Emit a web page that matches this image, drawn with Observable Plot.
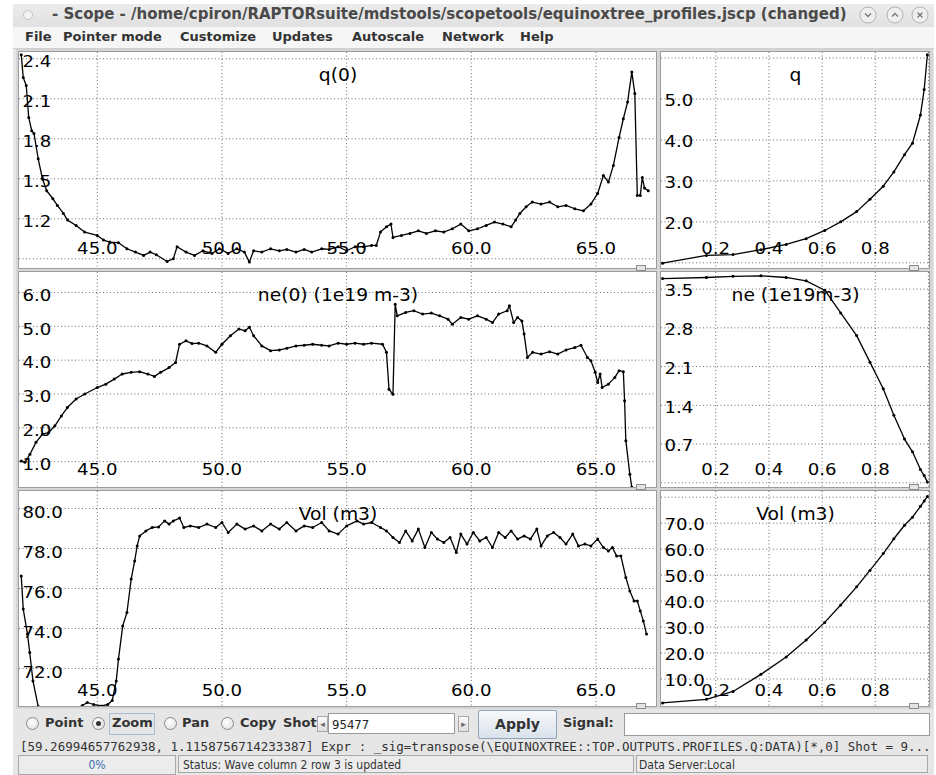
<!DOCTYPE html>
<html>
<head>
<meta charset="utf-8">
<script src="https://cdn.jsdelivr.net/npm/d3@7"></script>
<script src="https://cdn.jsdelivr.net/npm/@observablehq/plot@0.6"></script>
<style>
  html, body { margin:0; padding:0; }
  body { width:936px; height:775px; overflow:hidden; background:#ffffff; position:relative; font-family:"DejaVu Sans", sans-serif; }
  .abs { position:absolute; }
  #win { left:13px; top:4px; width:921px; height:771px; background:#e6e6e6; }
  #titlebar { left:13px; top:4px; width:921px; height:23px; background:linear-gradient(#ececec,#e0e0e0); }
  #title { left:52px; top:5px; font:bold 15px "DejaVu Sans"; color:#4a4a4a; white-space:nowrap; }
  #menubar { left:13px; top:27px; width:921px; height:21px; background:#f6f6f6; border-bottom:1px solid #cfcfcf; }
  .menu { top:29px; font:bold 13px "DejaVu Sans"; color:#333; white-space:nowrap; }
  .panel { background:#fff; outline:1px solid #9c9c9c; overflow:hidden; }
  .sep { background:#d6d6d6; }
  .handle { width:8px; height:4px; border:1px solid #8c8c8c; background:#e4e4e4; }
  .radio { width:11px; height:11px; border:1px solid #8a8a8a; border-radius:50%; background:radial-gradient(circle at 40% 35%, #ffffff, #dcdcdc); }
  .lbl { font:bold 13px "DejaVu Sans"; color:#333; white-space:nowrap; }
  .field { background:#fff; border:1px solid #9a9a9a; }
  .arrow { width:9px; height:14px; border:1px solid #a8a8a8; background:linear-gradient(#fafafa,#dedede); font-size:9px; line-height:14px; text-align:center; color:#666; }
  .status { height:18px; border:1px solid #a8a8a8; background:#ececec; font:12px "DejaVu Sans Condensed"; color:#333; line-height:18px; white-space:nowrap; overflow:hidden; }
</style>
</head>
<body>
<div id="win" class="abs"></div>
<div id="titlebar" class="abs"></div>
<svg class="abs" style="left:22px;top:9px" width="14" height="14"><circle cx="6" cy="6" r="4.5" fill="#f2f2f2" stroke="#c4c4c4"/></svg>
<div id="title" class="abs">- Scope - /home/cpiron/RAPTORsuite/mdstools/scopetools/equinoxtree_profiles.jscp (changed)</div>
<svg class="abs" style="left:858px;top:5px" width="74" height="20">
  <g fill="#efefef" stroke="#b4b4b4"><circle cx="10" cy="10" r="8"/><circle cx="37" cy="10" r="8"/><circle cx="62" cy="10" r="8"/></g>
  <g fill="none" stroke="#777" stroke-width="1.3"><path d="M7 8.5 L10 11.5 L13 8.5"/><path d="M34 11.5 L37 8.5 L40 11.5"/><path d="M59.5 7.5 L64.5 12.5 M64.5 7.5 L59.5 12.5"/></g>
</svg>
<div id="menubar" class="abs"></div>
<div id="menus"></div>
<div id="panels"></div>
<div id="controls"></div>
<script>
// ---------------- data ----------------
// time traces (s) for the left column
const q0T = [41.95,42.03,42.15,42.25,42.37,42.46,42.63,42.8,42.97,43.22,43.4,43.64,43.81,44.15,44.49,45.0,45.25,45.5,45.85,46.19,46.53,46.86,47.12,47.37,47.8,48.05,48.2,48.56,48.9,49.24,49.6,49.9,50.25,50.6,50.9,51.1,51.27,51.6,51.95,52.3,52.6,52.97,53.3,53.6,54.0,54.3,54.66,55.0,55.34,55.68,56.0,56.19,56.36,56.6,56.78,56.86,57.2,57.54,57.88,58.2,58.56,58.9,59.24,59.58,59.9,60.25,60.6,60.93,61.27,61.6,61.78,61.95,62.2,62.45,62.8,63.14,63.47,63.8,64.15,64.5,64.8,65.07,65.3,65.5,65.7,65.93,66.1,66.27,66.44,66.56,66.66,66.78,66.86,66.95,67.1];
const q0V = [2.43,2.26,2.2,1.96,1.86,1.84,1.65,1.5,1.41,1.35,1.3,1.24,1.19,1.15,1.1,1.075,1.04,1.025,1.02,0.975,0.95,0.925,0.95,0.93,0.88,0.9,0.99,0.95,0.925,0.96,0.94,0.975,0.94,0.975,0.95,0.875,0.96,0.95,0.975,0.96,0.97,0.95,0.97,0.95,0.975,0.97,0.99,0.96,0.99,0.99,1.0,1.0,1.1,1.14,1.16,1.06,1.075,1.09,1.11,1.09,1.11,1.1,1.125,1.16,1.11,1.125,1.15,1.175,1.16,1.14,1.19,1.24,1.29,1.325,1.31,1.325,1.29,1.3,1.275,1.26,1.31,1.39,1.525,1.475,1.6,1.81,1.95,2.075,2.3,2.14,1.375,1.375,1.51,1.43,1.41];

const ne0T = [41.95,42.1,42.3,42.54,42.8,43.05,43.3,43.56,43.8,44.15,44.5,45.0,45.34,45.68,46.0,46.36,46.7,47.03,47.29,47.54,47.88,48.14,48.3,48.56,48.8,49.07,49.4,49.75,50.0,50.34,50.68,50.93,51.1,51.27,51.6,51.95,52.3,52.6,52.97,53.3,53.64,54.0,54.3,54.66,55.0,55.34,55.68,56.0,56.44,56.6,56.7,56.86,56.95,57.03,57.37,57.7,58.05,58.4,58.73,59.07,59.24,59.58,59.9,60.25,60.6,60.85,61.1,61.44,61.53,61.7,61.86,62.03,62.12,62.25,62.46,62.8,63.14,63.47,63.8,64.15,64.4,64.66,64.8,64.97,65.07,65.17,65.25,65.5,65.76,65.93,66.1,66.15,66.2,66.36,66.44];
const ne0V = [1.02,0.98,1.22,1.57,1.81,1.86,2.06,2.35,2.6,2.85,3.0,3.19,3.29,3.44,3.59,3.64,3.66,3.59,3.52,3.64,3.78,3.93,4.47,4.57,4.49,4.5,4.42,4.23,4.47,4.72,4.92,4.87,4.97,4.72,4.42,4.28,4.3,4.35,4.42,4.44,4.47,4.44,4.42,4.5,4.47,4.5,4.47,4.5,4.47,4.23,3.14,2.99,5.65,5.31,5.41,5.46,5.36,5.39,5.31,5.21,5.06,5.26,5.21,5.31,5.21,5.11,5.36,5.46,5.61,5.11,5.26,5.16,4.77,4.08,4.23,4.18,4.25,4.18,4.3,4.37,4.44,4.08,3.98,3.64,3.34,3.59,3.19,3.29,3.49,3.69,3.66,2.8,1.62,0.63,0.24];

const volT = [41.95,42.03,42.2,42.29,42.42,42.63,43.5,44.4,44.6,44.85,45.17,45.42,45.6,45.76,45.85,46.02,46.19,46.36,46.5,46.6,46.7,46.95,47.2,47.46,47.7,47.88,48.05,48.3,48.47,48.73,49.07,49.4,49.75,50.0,50.25,50.6,50.93,51.27,51.6,51.95,52.3,52.6,52.97,53.3,53.64,54.0,54.3,54.66,55.0,55.42,55.68,56.0,56.36,56.6,56.86,57.12,57.37,57.63,57.88,58.14,58.4,58.64,58.9,59.15,59.4,59.58,59.83,60.08,60.34,60.6,60.85,61.1,61.36,61.6,61.86,62.12,62.37,62.63,62.8,63.05,63.3,63.56,63.8,64.07,64.3,64.56,64.8,65.07,65.3,65.5,65.66,65.83,66.0,66.2,66.36,66.53,66.66,66.78,66.9,67.03];
const volV = [76.63,74.97,73.72,72.8,71.38,70.1,69.5,70.15,70.3,70.2,70.13,70.2,70.4,71.38,72.47,74.13,74.8,76.47,77.38,78.13,78.63,78.88,79.05,79.08,79.38,79.22,79.38,79.52,79.05,79.13,79.05,79.22,79.05,79.3,78.8,79.22,78.97,79.13,78.88,79.22,78.97,79.3,78.88,79.13,79.05,79.3,78.88,78.72,79.13,79.38,79.22,79.3,79.05,78.88,78.55,78.3,78.88,78.38,78.97,78.05,78.8,78.47,78.3,78.55,77.8,78.72,78.22,78.8,78.38,78.55,78.05,78.8,78.55,78.88,78.47,78.63,78.47,78.97,78.13,78.63,78.8,78.55,78.22,78.72,78.13,78.22,78.13,78.47,78.05,77.88,78.05,77.63,77.63,76.55,75.88,75.38,75.38,74.88,74.38,73.72];

// radial profiles for the right column
const rho = [0,0.165,0.265,0.37,0.465,0.54,0.61,0.67,0.73,0.78,0.83,0.87,0.91,0.94,0.97,0.984,0.996];
const qProf = [0.99,1.18,1.2,1.32,1.45,1.59,1.79,2.0,2.25,2.55,2.87,3.22,3.64,3.92,4.61,5.23,6.08];
const neProf = [3.69,3.71,3.73,3.74,3.71,3.65,3.48,3.07,2.66,2.18,1.70,1.22,0.79,0.56,0.24,0.13,0.015];
const volProf = [0.8,2.2,5.2,11.8,18.5,25.0,31.8,38.5,45.5,51.8,58.3,64.0,69.2,72.3,76.5,78.5,80.3];

// ticks
const timeTicks = [45,50,55,60,65];
const rhoTicks = [0.2,0.4,0.6,0.8];
const rhoGrid = [0.2,0.4,0.6,0.8,1.0];
const q0Ticks = [1.2,1.5,1.8,2.1,2.4];
const q0Grid = [0.9,1.2,1.5,1.8,2.1,2.4];
const ne0Ticks = [1,2,3,4,5,6];
const vol0Ticks = [72,74,76,78,80];
const qTicks = [2,3,4,5];
const qGrid = [1,2,3,4,5,6];
const neTicks = [0.7,1.4,2.1,2.8,3.5];
const neGrid = [0,0.7,1.4,2.1,2.8,3.5];
const volTicks = [10,20,30,40,50,60,70];
const volGrid = [10,20,30,40,50,60,70,80];

const titles = ["q(0)","ne(0) (1e19 m-3)","Vol (m3)","q","ne (1e19m-3)","Vol (m3)"];

// ---------------- drawing ----------------
const LEFT = {x:19, w:637}, RIGHT = {x:661, w:268};
const ROWS = [{y:52,h:216,xdy:-15},{y:272,h:215,xdy:-13},{y:491,h:215,xdy:-11}];

function panel(cfg) {
  const idx = d3.range(Math.min(cfg.xs.length, cfg.ys.length));
  const gridStyle = {stroke:"#6a6a6a", strokeOpacity:1, strokeWidth:1, strokeDasharray:"1,2.5"};
  const svg = Plot.plot({
    width: cfg.w, height: cfg.h, margin: 0,
    x: {domain: cfg.xd, axis: null},
    y: {domain: cfg.yd, axis: null},
    style: {background:"#fff", color:"#000", fontFamily:"DejaVu Sans", overflow:"hidden"},
    marks: [
      Plot.gridX(cfg.xgrid, gridStyle),
      Plot.gridY(cfg.ygrid, gridStyle),
      Plot.text(cfg.xticks, {x: d => d, text: d => d.toFixed(1), frameAnchor:"bottom", dy:cfg.xdy, fontSize:16.5, fill:"#000"}),
      Plot.text(cfg.yticks, {y: d => d, text: d => d.toFixed(1), frameAnchor:"left", textAnchor:"start", dx:3, dy:cfg.ydy, fontSize:16.5, fill:"#000"}),
      Plot.text([cfg.title], {text: d => d, frameAnchor:"top", dy:16, fontSize:17, fill:"#000"}),
      Plot.line(idx, {x: i => cfg.xs[i], y: i => cfg.ys[i], stroke:"#000", strokeWidth:1.3, clip:true}),
      Plot.dot(idx, {x: i => cfg.xs[i], y: i => cfg.ys[i], r:1.5, fill:"#000", stroke:null, clip:true})
    ]
  });
  // the reference glyphs are slightly wide: stretch each label about its anchor
  svg.querySelectorAll("text").forEach(t => {
    const tr = t.getAttribute("transform");
    if (tr) t.setAttribute("transform", tr + " scale(1.1,1)");
    else {
      const x = +t.getAttribute("x") || 0, y = +t.getAttribute("y") || 0;
      t.removeAttribute("x"); t.removeAttribute("y");
      t.setAttribute("transform", `translate(${x},${y}) scale(1.1,1)`);
    }
  });
  return svg;
}

const cfgs = [
  {col:LEFT, row:0, xs:q0T, ys:q0V, xd:[41.88,67.43], yd:[0.827,2.447], xgrid:timeTicks, xticks:timeTicks, ygrid:q0Grid, yticks:q0Ticks, ydy:3, title:titles[0]},
  {col:LEFT, row:1, xs:ne0T, ys:ne0V, xd:[41.88,67.43], yd:[0.236,6.59], xgrid:timeTicks, xticks:timeTicks, ygrid:ne0Ticks, yticks:ne0Ticks, ydy:3, title:titles[1]},
  {col:LEFT, row:2, xs:volT, ys:volV, xd:[41.88,67.43], yd:[70.1,80.85], xgrid:timeTicks, xticks:timeTicks, ygrid:vol0Ticks, yticks:vol0Ticks, ydy:4, title:titles[2]},
  {col:RIGHT, row:0, xs:rho, ys:qProf, xd:[-0.004,1.004], yd:[0.861,6.135], xgrid:rhoGrid, xticks:rhoTicks, ygrid:qGrid, yticks:qTicks, ydy:2, title:titles[3]},
  {col:RIGHT, row:1, xs:rho, ys:neProf, xd:[-0.004,1.004], yd:[-0.085,3.80], xgrid:rhoGrid, xticks:rhoTicks, ygrid:neGrid, yticks:neTicks, ydy:2, title:titles[4]},
  {col:RIGHT, row:2, xs:rho, ys:volProf, xd:[-0.004,1.004], yd:[-0.58,82.2], xgrid:rhoGrid, xticks:rhoTicks, ygrid:volGrid, yticks:volTicks, ydy:2, title:titles[5]}
];

const host = document.getElementById("panels");
const sep = document.createElement("div");
sep.className = "abs sep";
Object.assign(sep.style, {left:"16px", top:"49px", width:"917px", height:"660px"});
host.appendChild(sep);

for (const c of cfgs) {
  const r = ROWS[c.row];
  const div = document.createElement("div");
  div.className = "abs panel";
  Object.assign(div.style, {left:c.col.x+"px", top:r.y+"px", width:c.col.w+"px", height:r.h+"px"});
  div.appendChild(panel({...c, w:c.col.w, h:r.h, xdy:r.xdy}));
  host.appendChild(div);
  const h = document.createElement("div");
  h.className = "abs handle";
  Object.assign(h.style, {left:(c.col.x + c.col.w - 20)+"px", top:(r.y + r.h - 3)+"px"});
  host.appendChild(h);
}

// menus
const menuItems = [["File",25],["Pointer mode",63],["Customize",180],["Updates",272],["Autoscale",352],["Network",442],["Help",520]];
const mh = document.getElementById("menus");
for (const [t,x] of menuItems) {
  const s = document.createElement("div");
  s.className = "abs menu"; s.style.left = x+"px"; s.textContent = t; mh.appendChild(s);
}

// bottom controls
const ctl = document.getElementById("controls");
function add(cls, style, text) {
  const d = document.createElement("div");
  d.className = "abs " + cls;
  Object.assign(d.style, style);
  if (text != null) d.textContent = text;
  ctl.appendChild(d);
  return d;
}
const radios = [["Point",26,45,false],["Zoom",92,112,true],["Pan",164,182,false],["Copy",221,240,false]];
for (const [t,rx,tx,sel] of radios) {
  const r = add("radio", {left:rx+"px", top:"717px"});
  if (sel) { const dot = document.createElement("div"); Object.assign(dot.style,{position:"absolute",left:"3px",top:"3px",width:"5px",height:"5px",borderRadius:"50%",background:"#333"}); r.appendChild(dot); }
  add("lbl", {left:tx+"px", top:"715px"}, t);
}
add("", {left:"109px", top:"713px", width:"44px", height:"20px", border:"1px solid #a9bdd6"});
add("lbl", {left:"283px", top:"715px"}, "Shot");
add("arrow", {left:"317px", top:"716px"}, "◂");
add("field", {left:"328px", top:"713px", width:"127px", height:"21px", font:"13px 'DejaVu Sans Condensed'", lineHeight:"21px", paddingLeft:"3px", boxSizing:"border-box", color:"#222"}, "95477");
add("arrow", {left:"458px", top:"716px"}, "▸");
add("", {left:"478px", top:"710px", width:"77px", height:"27px", border:"1px solid #8fa3ba", borderRadius:"2px", background:"linear-gradient(#f7f9fb,#d9e1ea)", font:"bold 14px 'DejaVu Sans'", color:"#333", textAlign:"center", lineHeight:"27px"}, "Apply");
add("lbl", {left:"563px", top:"715px"}, "Signal:");
add("field", {left:"624px", top:"713px", width:"304px", height:"21px"});
add("", {left:"20px", top:"739px", font:"12.5px 'DejaVu Sans Mono'", color:"#333", whiteSpace:"nowrap"}, "[59.26994657762938, 1.1158756714233387]  Expr : _sig=transpose(\\EQUINOXTREE::TOP.OUTPUTS.PROFILES.Q:DATA)[*,0] Shot = 9...");
add("status", {left:"18px", top:"755px", width:"156px", textAlign:"center", color:"#3a6fb8"}, "0%");
add("status", {left:"178px", top:"755px", width:"456px", paddingLeft:"4px", boxSizing:"border-box"}, "Status: Wave column 2 row 3 is updated");
add("status", {left:"636px", top:"755px", width:"292px", paddingLeft:"2px", boxSizing:"border-box"}, "Data Server:Local");
</script>
</body>
</html>
